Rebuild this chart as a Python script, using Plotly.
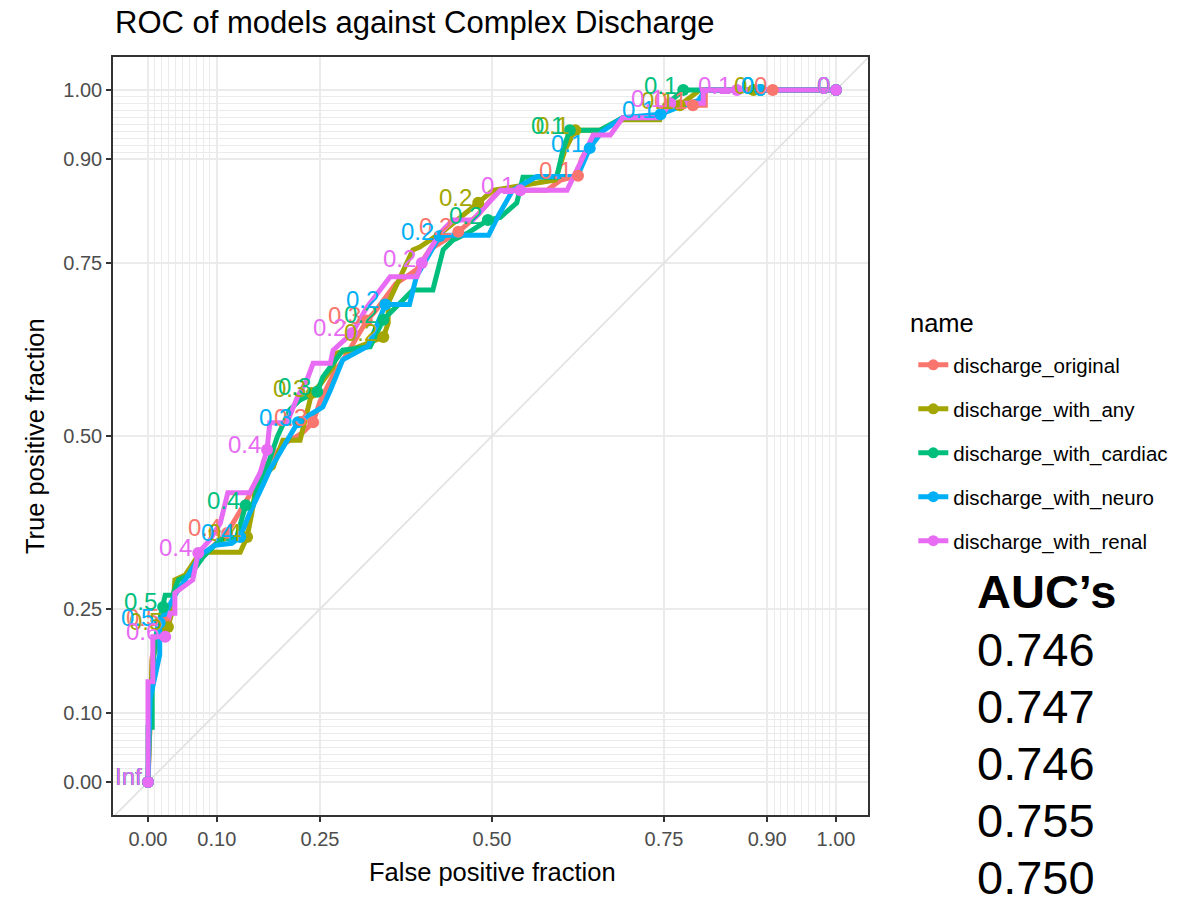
import plotly.graph_objects as go

# ---------------- data ----------------
names = ["discharge_original", "discharge_with_any", "discharge_with_cardiac",
         "discharge_with_neuro", "discharge_with_renal"]
colors = ["#F8766D", "#A3A500", "#00BF7D", "#00B0F6", "#E76BF3"]
auc = [0.746, 0.747, 0.746, 0.755, 0.750]

major_breaks = [0, 0.1, 0.25, 0.5, 0.75, 0.9, 1.0]
major_labels = ["0.00", "0.10", "0.25", "0.50", "0.75", "0.90", "1.00"]
minor_breaks = [0.01, 0.02, 0.03, 0.04, 0.05, 0.06, 0.07, 0.08, 0.09,
                0.91, 0.92, 0.93, 0.94, 0.95, 0.96, 0.97, 0.98, 0.99]

orig_fpf = [0, 0.003, 0.006, 0.015, 0.025, 0.036, 0.040, 0.060, 0.083, 0.115, 0.145, 0.160, 0.180, 0.200,
            0.225, 0.240, 0.250, 0.270, 0.290, 0.318, 0.330, 0.360, 0.390, 0.410, 0.451, 0.480, 0.510, 0.580,
            0.600, 0.625, 0.630, 0.650, 0.690, 0.745, 0.760, 0.792, 0.810, 0.810, 0.908, 1.0]
orig_tpf = [0, 0.120, 0.180, 0.210, 0.230, 0.260, 0.290, 0.300, 0.330, 0.360, 0.410, 0.440, 0.470, 0.490,
            0.505, 0.520, 0.550, 0.590, 0.620, 0.667, 0.680, 0.720, 0.740, 0.770, 0.795, 0.820, 0.855, 0.855,
            0.870, 0.876, 0.900, 0.935, 0.960, 0.960, 0.978, 0.978, 0.978, 1.0, 1.0, 1.0]
orig_cut_fpf = [0, 0.025, 0.115, 0.240, 0.318, 0.451, 0.625, 0.792, 0.908, 1.0]
orig_cut_tpf = [0, 0.230, 0.360, 0.520, 0.667, 0.795, 0.876, 0.978, 1.0, 1.0]
orig_cut_lab = ["Inf", "0.5", "0.4", "0.3", "0.3", "0.2", "0.1", "0.1", "0", "0"]

any_fpf = [0, 0.003, 0.006, 0.017, 0.029, 0.036, 0.039, 0.054, 0.076, 0.134, 0.144, 0.151, 0.158, 0.182,
           0.196, 0.221, 0.225, 0.238, 0.250, 0.269, 0.275, 0.294, 0.342, 0.349, 0.349, 0.362, 0.385, 0.395,
           0.432, 0.480, 0.501, 0.592, 0.606, 0.621, 0.657, 0.690, 0.744, 0.751, 0.773, 0.802, 0.88, 1.0]
any_tpf = [0, 0.118, 0.176, 0.212, 0.224, 0.249, 0.292, 0.299, 0.332, 0.332, 0.354, 0.389, 0.436, 0.455,
           0.494, 0.494, 0.509, 0.562, 0.574, 0.600, 0.620, 0.624, 0.643, 0.663, 0.692, 0.721, 0.769, 0.773,
           0.798, 0.837, 0.855, 0.870, 0.913, 0.942, 0.942, 0.957, 0.957, 0.978, 0.978, 1.0, 1.0, 1.0]
any_cut_fpf = [0, 0.029, 0.144, 0.238, 0.342, 0.480, 0.621, 0.773, 0.88, 1.0]
any_cut_tpf = [0, 0.224, 0.354, 0.562, 0.643, 0.837, 0.942, 0.978, 1.0, 1.0]
any_cut_lab = ["Inf", "0.5", "0.4", "0.3", "0.2", "0.2", "0.1", "0.1", "0", "0"]

cardiac_fpf = [0, 0, 0.006, 0.006, 0.010, 0.022, 0.025, 0.036, 0.044, 0.061, 0.080, 0.105, 0.129, 0.142,
               0.153, 0.158, 0.173, 0.188, 0.206, 0.221, 0.246, 0.254, 0.283, 0.323, 0.333, 0.342, 0.366,
               0.385, 0.414, 0.429, 0.443, 0.464, 0.494, 0.512, 0.536, 0.545, 0.594, 0.603, 0.613, 0.657,
               0.690, 0.744, 0.762, 0.778, 0.89, 1.0]
cardiac_tpf = [0, 0.079, 0.079, 0.145, 0.205, 0.253, 0.270, 0.270, 0.292, 0.299, 0.325, 0.350, 0.354, 0.400,
               0.400, 0.422, 0.455, 0.499, 0.538, 0.552, 0.564, 0.585, 0.624, 0.629, 0.649, 0.668, 0.692,
               0.711, 0.711, 0.769, 0.783, 0.793, 0.812, 0.816, 0.837, 0.874, 0.874, 0.913, 0.942, 0.942,
               0.960, 0.960, 0.986, 1.0, 1.0, 1.0]
cardiac_cut_fpf = [0, 0.022, 0.142, 0.246, 0.342, 0.494, 0.613, 0.778, 0.89, 1.0]
cardiac_cut_tpf = [0, 0.253, 0.400, 0.564, 0.668, 0.812, 0.942, 1.0, 1.0, 1.0]
cardiac_cut_lab = ["Inf", "0.5", "0.4", "0.3", "0.2", "0.2", "0.1", "0.1", "0", "0"]

neuro_fpf = [0, 0.003, 0.017, 0.017, 0.028, 0.039, 0.054, 0.076, 0.097, 0.122, 0.134, 0.148, 0.167, 0.177,
             0.200, 0.218, 0.254, 0.265, 0.283, 0.320, 0.345, 0.380, 0.390, 0.424, 0.435, 0.495, 0.510, 0.530,
             0.565, 0.624, 0.642, 0.660, 0.690, 0.745, 0.770, 0.800, 0.810, 0.890, 1.0]
neuro_tpf = [0, 0.120, 0.184, 0.230, 0.249, 0.270, 0.292, 0.328, 0.342, 0.345, 0.354, 0.389, 0.429, 0.451,
             0.490, 0.520, 0.542, 0.566, 0.610, 0.630, 0.690, 0.690, 0.730, 0.789, 0.790, 0.790, 0.820, 0.855,
             0.875, 0.875, 0.916, 0.940, 0.960, 0.965, 0.975, 0.985, 1.0, 1.0, 1.0]
neuro_cut_fpf = [0, 0.017, 0.134, 0.218, 0.345, 0.424, 0.642, 0.745, 0.890, 1.0]
neuro_cut_tpf = [0, 0.230, 0.354, 0.520, 0.690, 0.789, 0.916, 0.965, 1.0, 1.0]
neuro_cut_lab = ["Inf", "0.5", "0.4", "0.3", "0.2", "0.2", "0.1", "0.1", "0", "0"]

renal_fpf = [0, 0, 0.007, 0.007, 0.025, 0.032, 0.039, 0.039, 0.065, 0.073, 0.090, 0.105, 0.116, 0.148,
             0.163, 0.173, 0.177, 0.202, 0.217, 0.231, 0.240, 0.265, 0.269, 0.297, 0.318, 0.352, 0.391,
             0.398, 0.424, 0.443, 0.472, 0.512, 0.541, 0.609, 0.628, 0.647, 0.672, 0.690, 0.744, 0.759,
             0.807, 0.807, 0.856, 1.0]
renal_tpf = [0, 0.145, 0.145, 0.210, 0.210, 0.244, 0.244, 0.273, 0.292, 0.331, 0.350, 0.374, 0.418, 0.418,
             0.447, 0.480, 0.519, 0.519, 0.556, 0.581, 0.605, 0.605, 0.624, 0.649, 0.686, 0.730, 0.730,
             0.750, 0.793, 0.812, 0.812, 0.855, 0.855, 0.855, 0.894, 0.935, 0.935, 0.960, 0.960, 0.981,
             0.981, 1.0, 1.0, 1.0]
renal_cut_fpf = [0, 0.025, 0.073, 0.173, 0.297, 0.398, 0.541, 0.759, 0.856, 1.0]
renal_cut_tpf = [0, 0.210, 0.331, 0.480, 0.649, 0.750, 0.855, 0.981, 1.0, 1.0]
renal_cut_lab = ["Inf", "0.6", "0.4", "0.4", "0.2", "0.2", "0.1", "0.1", "0.1", "0"]

paths = [(orig_fpf, orig_tpf), (any_fpf, any_tpf), (cardiac_fpf, cardiac_tpf),
         (neuro_fpf, neuro_tpf), (renal_fpf, renal_tpf)]
cuts = [(orig_cut_fpf, orig_cut_tpf, orig_cut_lab), (any_cut_fpf, any_cut_tpf, any_cut_lab),
        (cardiac_cut_fpf, cardiac_cut_tpf, cardiac_cut_lab), (neuro_cut_fpf, neuro_cut_tpf, neuro_cut_lab),
        (renal_cut_fpf, renal_cut_tpf, renal_cut_lab)]

FONT = "Liberation Sans, Arial, Helvetica, sans-serif"

fig = go.Figure()

# lines
for (fx, fy), col in zip(paths, colors):
    fig.add_trace(go.Scatter(x=fx, y=fy, mode="lines", line=dict(color=col, width=5),
                             showlegend=False, hoverinfo="skip"))
# points
for (cx, cy, cl), col in zip(cuts, colors):
    fig.add_trace(go.Scatter(x=cx, y=cy, mode="markers", marker=dict(color=col, size=12),
                             showlegend=False, hoverinfo="skip"))
# legend entries
for nm, col in zip(names, colors):
    fig.add_trace(go.Scatter(x=[None], y=[None], mode="lines+markers", name=nm, legendgroup=nm,
                             line=dict(color=col, width=5), marker=dict(color=col, size=11)))

annotations = []
# cut labels
for (cx, cy, cl), col in zip(cuts, colors):
    for x, y, t in zip(cx, cy, cl):
        annotations.append(dict(x=x, y=y, xref="x", yref="y", text=t, showarrow=False,
                                xanchor="right", yanchor="middle", xshift=-4, yshift=5,
                                font=dict(family=FONT, size=24, color=col)))

# title and axis titles
annotations.append(dict(x=0, y=1.046, xref="paper", yref="paper", text="ROC of models against Complex Discharge",
                        showarrow=False, xanchor="left", yanchor="middle",
                        font=dict(family=FONT, size=31, color="black")))
annotations.append(dict(x=0.502, y=-0.0752, xref="paper", yref="paper", text="False positive fraction",
                        showarrow=False, xanchor="center", yanchor="middle",
                        font=dict(family=FONT, size=25.5, color="black")))
annotations.append(dict(x=-0.1033, y=0.5, xref="paper", yref="paper", text="True positive fraction",
                        showarrow=False, xanchor="center", yanchor="middle", textangle=-90,
                        font=dict(family=FONT, size=25.5, color="black")))
# legend title
annotations.append(dict(x=1.053, y=0.649, xref="paper", yref="paper", text="name",
                        showarrow=False, xanchor="left", yanchor="middle",
                        font=dict(family=FONT, size=25.5, color="black")))

# AUC block
auc_y = [0.2177, 0.1425, 0.0673, -0.0079, -0.0818]
annotations.append(dict(x=1.1417, y=0.2942, xref="paper", yref="paper", text="<b>AUC’s</b>",
                        showarrow=False, xanchor="left", yanchor="middle",
                        font=dict(family=FONT, size=47, color="black")))
for v, yy in zip(auc, auc_y):
    annotations.append(dict(x=1.1417, y=yy, xref="paper", yref="paper", text=f"{v:.3f}",
                            showarrow=False, xanchor="left", yanchor="middle",
                            font=dict(family=FONT, size=47, color="black")))

axis_common = dict(
    tickmode="array", tickvals=major_breaks, ticktext=major_labels,
    showgrid=True, gridcolor="#EBEBEB", gridwidth=1.6,
    minor=dict(tickvals=minor_breaks, showgrid=True, gridcolor="#EBEBEB", gridwidth=0.9, ticks=""),
    zeroline=False, showline=True, mirror=True, linecolor="#333333", linewidth=1.5,
    ticks="outside", ticklen=5, tickwidth=1.5, tickcolor="#333333",
    tickfont=dict(family=FONT, size=20, color="#4D4D4D"),
)

fig.update_layout(
    width=1198, height=898, autosize=False,
    margin=dict(l=113, r=330, t=57, b=83),
    paper_bgcolor="white", plot_bgcolor="white",
    xaxis=dict(range=[-0.0509, 1.0465], **axis_common),
    yaxis=dict(range=[-0.0477, 1.0477], **axis_common),
    shapes=[dict(type="line", xref="x", yref="y", x0=-0.06, y0=-0.06, x1=1.06, y1=1.06,
                 line=dict(color="#E3E3E3", width=1.8), layer="between")],
    annotations=annotations,
    legend=dict(font=dict(family=FONT, size=20.5, color="black"),
                x=1.060, y=0.620, xanchor="left", yanchor="top",
                tracegroupgap=14.3, bgcolor="rgba(0,0,0,0)"),
    font=dict(family=FONT),
)

fig.write_html("out.html", config={"displayModeBar": False},
               post_script="document.body.style.margin='0';")
